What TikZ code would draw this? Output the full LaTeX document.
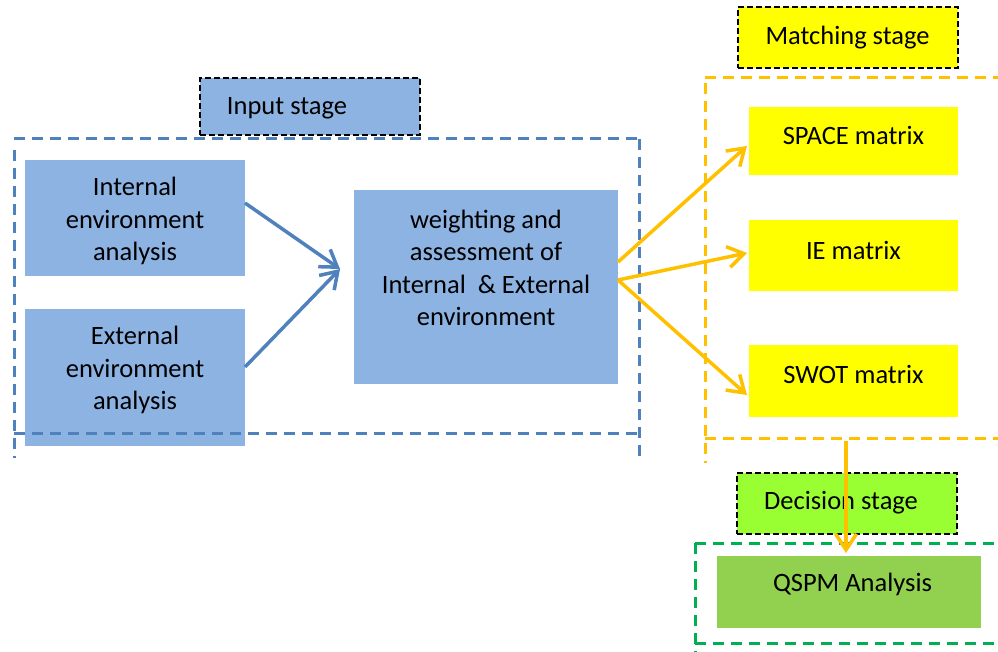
\documentclass[tikz,border=0pt]{standalone}
\usepackage{fontspec}
\setmainfont{Carlito}
\usetikzlibrary{arrows.meta}
\definecolor{boxblue}{RGB}{141,179,226}
\definecolor{lineblue}{RGB}{79,129,189}
\definecolor{orangeline}{RGB}{255,192,0}
\definecolor{yellowbox}{RGB}{255,255,0}
\definecolor{decgreen}{RGB}{153,255,51}
\definecolor{qspmgreen}{RGB}{146,208,80}
\definecolor{dashgreen}{RGB}{0,176,80}
\tikzset{
  bx/.style={rectangle, inner sep=0pt, outer sep=0pt},
  stagebox/.style={bx, draw=black, line width=1.8pt, dash pattern=on 6pt off 3pt},
  txt/.style={font=\fontsize{26.5}{32.5}\selectfont, align=center, inner sep=0pt},
  bluedash/.style={draw=lineblue, line width=3pt, dash pattern=on 11pt off 7pt},
  orangedash/.style={draw=orangeline, line width=3pt, dash pattern=on 11pt off 7pt},
  greendash/.style={draw=dashgreen, line width=3pt, dash pattern=on 11pt off 7pt},
  bluearrow/.style={draw=lineblue, line width=3.5pt, -{Straight Barb[length=16pt, width=21pt]}},
  orangearrow/.style={draw=orangeline, line width=3.5pt, -{Straight Barb[length=16pt, width=21pt]}},
}
\begin{document}
\begin{tikzpicture}[x=1pt, y=-1pt]
\useasboundingbox (0,0) rectangle (998,652);
% boxes
\node[bx, fill=boxblue, minimum width=220pt, minimum height=116pt] (int) at (135,218) {};
\node[bx, fill=boxblue, minimum width=220pt, minimum height=137pt] (ext) at (135,377.5) {};
\node[bx, fill=boxblue, minimum width=264pt, minimum height=194pt] (wa) at (486,287) {};
\node[stagebox, fill=boxblue, minimum width=220pt, minimum height=57pt] (inpst) at (310,106.5) {};
\node[stagebox, fill=yellowbox, minimum width=220pt, minimum height=61pt] (match) at (848,37.5) {};
\node[bx, fill=yellowbox, minimum width=209pt, minimum height=68pt] (space) at (853.5,141) {};
\node[bx, fill=yellowbox, minimum width=209pt, minimum height=71pt] (ie) at (853.5,255.5) {};
\node[bx, fill=yellowbox, minimum width=209pt, minimum height=72pt] (swot) at (853.5,381) {};
\node[stagebox, fill=decgreen, minimum width=220pt, minimum height=61pt] (dec) at (847,503.5) {};
\node[bx, fill=qspmgreen, minimum width=264pt, minimum height=72pt] (qspm) at (849,592) {};
% texts
\node[txt] (inpstt) at (287,108) {Input stage};
\node[txt] (intt) at (135,221) {Internal\\environment\\analysis};
\node[txt] (extt) at (135,370) {External\\environment\\analysis};
\node[txt] (wat) at (486,268) {weighting and\\assessment of\\Internal~ \& External\\environment};
\node[txt] (matcht) at (847.5,38) {Matching stage};
\node[txt] (spacet) at (853.5,135) {SPACE matrix};
\node[txt] (iet) at (853.5,250) {IE matrix};
\node[txt] (swott) at (853.5,374) {SWOT matrix};
\node[txt] (dect) at (841,503) {Decision stage};
\node[txt] (qspmt) at (852.5,584) {QSPM Analysis};
% dashed containers
\draw[bluedash] (14,139) -- (640,139);
\draw[bluedash] (14,150) -- (14,458);
\draw[bluedash] (639,139) -- (639,458);
\draw[bluedash] (14,433) -- (640,433);
\draw[orangedash] (705,78) -- (998,78);
\draw[orangedash] (705,83) -- (705,463);
\draw[orangedash] (705,438) -- (998,438);
\draw[greendash] (695,543) -- (998,543);
\draw[greendash] (695,543) -- (695,652);
\draw[greendash] (695,643) -- (998,643);
% arrows
\coordinate (bt) at (340,269);
\draw[bluearrow] ([yshift=15pt]int.east) -- (bt);
\draw[bluearrow] ([yshift=10.5pt]ext.east) -- (bt);
\draw[orangearrow] ([yshift=25pt]wa.east) -- ([xshift=-2pt,yshift=-5pt]space.west);
\draw[orangearrow] ([yshift=7pt]wa.east) -- ([xshift=-2pt,yshift=2.5pt]ie.west);
\draw[orangearrow] ([yshift=7pt]wa.east) -- ([xshift=-2pt,yshift=-14pt]swot.west);
\coordinate (va) at (846,441);
\draw[orangearrow, shorten >=3pt] (va) -- (va |- qspm.north);
\end{tikzpicture}
\end{document}
